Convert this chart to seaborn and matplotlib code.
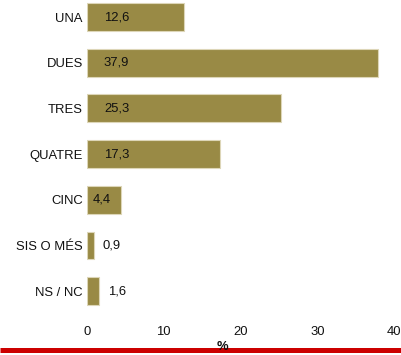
import matplotlib
matplotlib.use("Agg")
import matplotlib.pyplot as plt
import seaborn as sns
import pandas as pd
from matplotlib.lines import Line2D

categories = ["UNA", "DUES", "TRES", "QUATRE", "CINC", "SIS O MÉS", "NS / NC"]
values = [12.6, 37.9, 25.3, 17.3, 4.4, 0.9, 1.6]
value_labels = ["12,6", "37,9", "25,3", "17,3", "4,4", "0,9", "1,6"]
x_ticks = [0, 10, 20, 30, 40]

sns.set_style("white")
plt.rcParams["font.family"] = ["Liberation Sans", "DejaVu Sans"]

FS = 9.4

df = pd.DataFrame({"cat": categories, "val": values})

fig = plt.figure(figsize=(4.02, 3.55), dpi=100)
ax = fig.add_axes([87 / 402, 1 - 310 / 355, 307 / 402, 310 / 355])

sns.barplot(data=df, x="val", y="cat", orient="h", color="#998a45",
            saturation=1, width=0.61, edgecolor="#ddd6b8", linewidth=0.8, ax=ax)

ax.set_xlim(0, 40)
ax.set_ylim(6.41, -0.372)
ax.set_xticks(x_ticks)
ax.set_xticklabels([str(t) for t in x_ticks])
ax.set_xlabel("")
ax.set_ylabel("")
for s in ax.spines.values():
    s.set_visible(False)
ax.tick_params(axis="x", length=0, pad=11.5, labelsize=FS, colors="#111111")
ax.tick_params(axis="y", length=0, pad=3, labelsize=FS, colors="#111111")

# value labels: inside the bar for wide bars, just past the end for narrow ones
for i, (v, lab) in enumerate(zip(values, value_labels)):
    if v >= 10:
        xpos = 2.2
    elif v >= 3:
        xpos = 0.75
    else:
        xpos = v + 1.1
    ax.text(xpos, i, lab, ha="left", va="center", fontsize=FS, color="#111111")

# red rule along the bottom of the figure
fig.add_artist(Line2D([0, 1], [1 - 349.7 / 355] * 2, transform=fig.transFigure,
                      color="#cc0000", linewidth=3.6, solid_capstyle="butt", zorder=1))
fig.text(222 / 402, 1 - 346.5 / 355, "%", ha="center", va="center",
         fontsize=FS, fontweight="bold", color="#111111", zorder=3)

fig.savefig("out.png", dpi=100)
